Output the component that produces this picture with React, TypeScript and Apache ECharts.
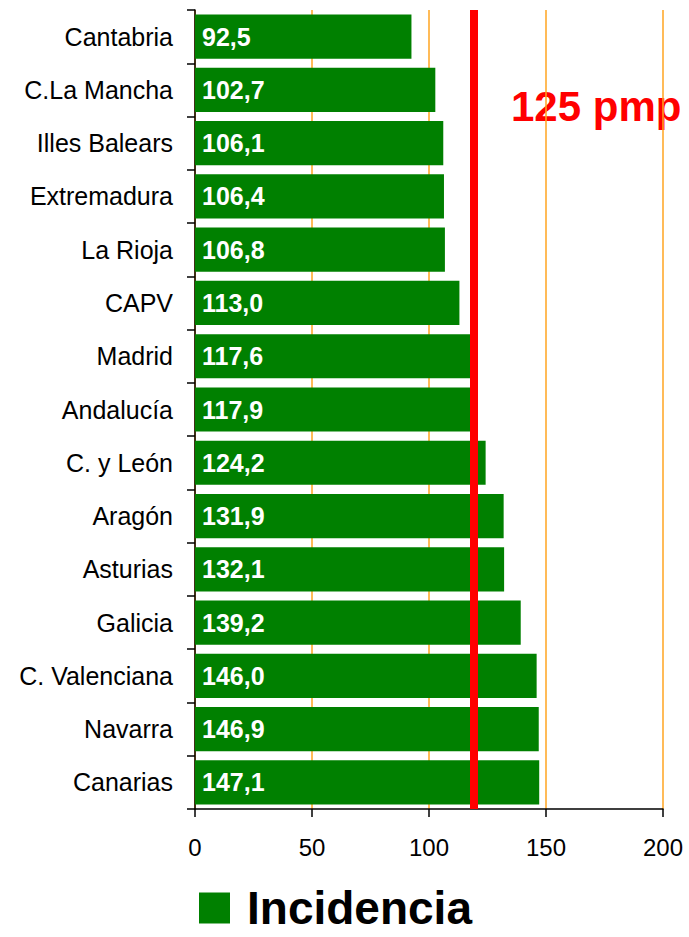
import React, { useEffect, useRef } from "react";
import * as echarts from "echarts";

const categories = [
  "Cantabria", "C.La Mancha", "Illes Balears", "Extremadura", "La Rioja", "CAPV",
  "Madrid", "Andalucía", "C. y León", "Aragón", "Asturias", "Galicia",
  "C. Valenciana", "Navarra", "Canarias",
];
const incidencia = [92.5, 102.7, 106.1, 106.4, 106.8, 113.0, 117.6, 117.9, 124.2, 131.9, 132.1, 139.2, 146.0, 146.9, 147.1];
const xTicks = [0, 50, 100, 150, 200];
const referenceValue = 119.3;
const referenceLabel = "125 pmp";
const seriesName = "Incidencia";

export default function App() {
  const ref = useRef<HTMLDivElement>(null);
  useEffect(() => {
    document.body.style.margin = "0";
    const chart = echarts.init(ref.current!, null, { renderer: "svg" });
    const font = "Arial, 'Liberation Sans', sans-serif";
    chart.setOption({
      animation: false,
      textStyle: { fontFamily: font },
      grid: { left: 195, right: 26, top: 10, bottom: 128, containLabel: false },
      legend: {
        data: [seriesName],
        left: 199,
        top: 885,
        padding: 0,
        itemWidth: 31,
        itemHeight: 31,
        icon: "rect",
        itemGap: 10,
        textStyle: {
          fontFamily: font,
          fontSize: 46,
          lineHeight: 36,
          fontWeight: "bold",
          color: "#000",
          padding: [0, 0, 0, 12],
        },
      },
      xAxis: {
        type: "value",
        min: xTicks[0],
        max: xTicks[xTicks.length - 1],
        interval: 50,
        axisLine: { show: true, lineStyle: { color: "#000", width: 1.5 } },
        axisTick: { show: true, length: 8, lineStyle: { color: "#000", width: 1.5 } },
        axisLabel: { fontSize: 24, color: "#000", margin: 26, fontFamily: font },
        splitLine: { show: true, lineStyle: { color: "#FFA520", width: 1.5 } },
      },
      yAxis: {
        type: "category",
        data: categories,
        inverse: true,
        axisLine: { show: true, lineStyle: { color: "#000", width: 1.5 } },
        axisTick: { show: true, length: 8, lineStyle: { color: "#000", width: 1.5 } },
        axisLabel: { fontSize: 25, color: "#000", margin: 22, fontFamily: font },
        splitLine: { show: false },
      },
      series: [
        {
          name: seriesName,
          type: "bar",
          data: incidencia,
          barCategoryGap: "17%",
          itemStyle: { color: "#008000" },
          label: {
            show: true,
            position: "insideLeft",
            distance: 7,
            color: "#fff",
            fontSize: 25,
            fontWeight: "bold",
            fontFamily: font,
            formatter: (p: any) => p.value.toFixed(1).replace(".", ","),
          },
          markLine: {
            silent: true,
            symbol: "none",
            label: { show: false },
            lineStyle: { color: "#FF0000", width: 8, type: "solid" },
            data: [{ xAxis: referenceValue }],
          },
          z: 2,
        },
      ],
      graphic: [
        {
          type: "text",
          left: 511,
          top: 85,
          style: {
            text: referenceLabel,
            fill: "#FF0000",
            fontSize: 42,
            fontWeight: "bold",
            fontFamily: font,
          },
        },
      ],
    });
    return () => chart.dispose();
  }, []);
  return <div ref={ref} style={{ width: 689, height: 937 }} />;
}
